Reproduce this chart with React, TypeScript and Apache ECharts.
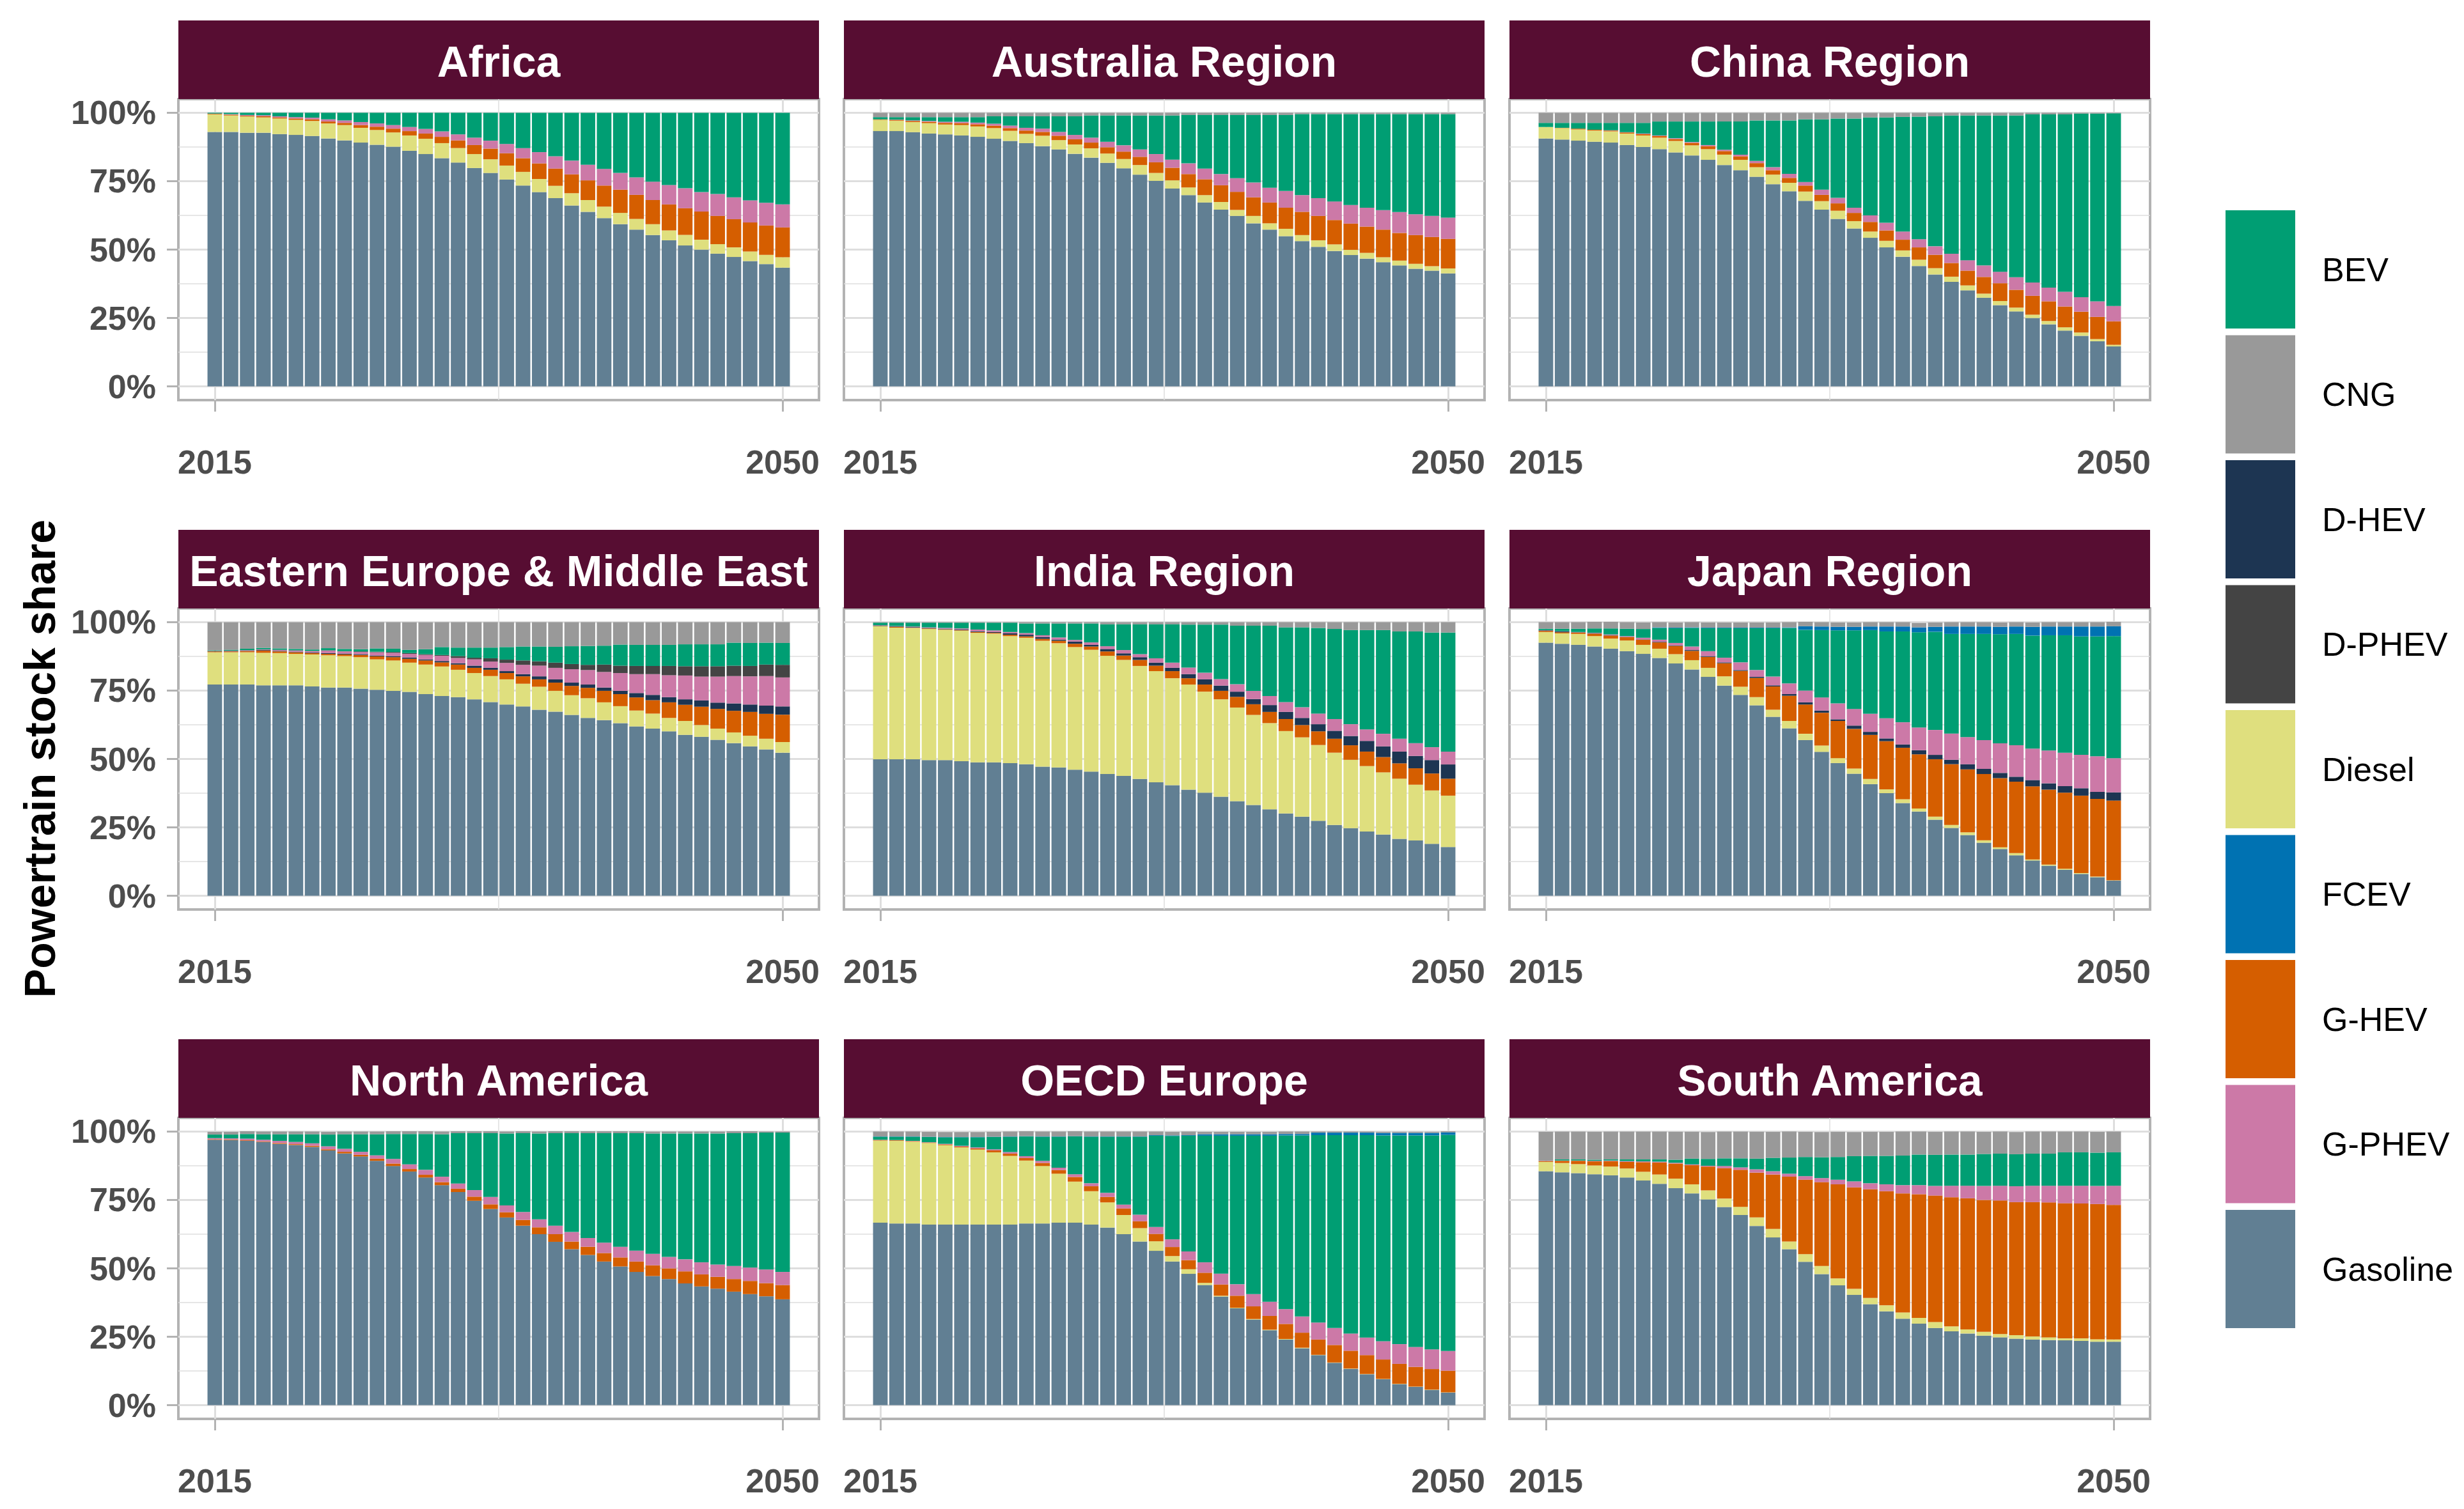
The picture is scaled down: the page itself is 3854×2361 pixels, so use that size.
import React, { useEffect, useRef } from 'react';
import * as echarts from 'echarts';

// ---------- categories / labels ----------
const YEARS = [2015, 2016, 2017, 2018, 2019, 2020, 2021, 2022, 2023, 2024, 2025, 2026, 2027, 2028, 2029, 2030, 2031, 2032, 2033, 2034, 2035, 2036, 2037, 2038, 2039, 2040, 2041, 2042, 2043, 2044, 2045, 2046, 2047, 2048, 2049, 2050];
const STACK_ORDER = ['Gasoline', 'Diesel', 'G-HEV', 'D-HEV', 'G-PHEV', 'D-PHEV', 'BEV', 'FCEV', 'CNG'];
const LEGEND_ORDER = ['BEV', 'CNG', 'D-HEV', 'D-PHEV', 'Diesel', 'FCEV', 'G-HEV', 'G-PHEV', 'Gasoline'];
const Y_TICKS = [0, 25, 50, 75, 100];
const Y_MINOR = [12.5, 37.5, 62.5, 87.5];
const X_TICKS = [2015, 2050];
const X_MINOR = [2032.5];
const Y_TITLE = 'Powertrain stock share';

// ---------- Africa ----------
const africaGasoline = [93.0, 93.0, 92.7, 92.7, 92.2, 91.9, 91.5, 90.6, 89.9, 89.1, 88.3, 87.6, 86.1, 84.9, 83.4, 81.8, 79.8, 78.0, 75.6, 73.4, 71.0, 68.8, 66.1, 63.8, 61.5, 59.3, 57.3, 55.3, 53.4, 51.5, 50.0, 48.5, 47.3, 45.8, 44.7, 43.4];
const africaDiesel = [6.4, 6.0, 5.9, 5.6, 5.7, 5.5, 5.5, 5.5, 5.6, 5.4, 5.4, 5.2, 5.6, 5.6, 5.5, 5.3, 5.1, 5.0, 5.1, 5.0, 4.8, 4.5, 4.5, 4.3, 4.2, 4.1, 3.9, 4.0, 3.6, 3.9, 3.6, 3.5, 3.5, 3.5, 3.4, 3.8];
const africaGHEV = [0.2, 0.3, 0.3, 0.4, 0.4, 0.5, 0.6, 0.7, 0.8, 1.0, 1.2, 1.4, 1.6, 1.9, 2.3, 2.8, 3.3, 3.9, 4.5, 5.0, 5.7, 6.3, 6.9, 7.2, 7.7, 8.5, 8.8, 8.8, 9.5, 9.7, 10.3, 10.3, 10.3, 10.6, 10.7, 10.9];
const africaGPHEV = [0.1, 0.2, 0.3, 0.4, 0.4, 0.5, 0.6, 0.8, 0.9, 1.1, 1.2, 1.3, 1.5, 1.7, 2.0, 2.2, 2.7, 2.9, 3.4, 3.7, 4.1, 4.5, 5.0, 5.7, 6.1, 6.1, 6.4, 6.7, 7.1, 7.3, 7.1, 8.0, 8.0, 8.1, 8.3, 8.4];
const africaBEV = [0.3, 0.5, 0.8, 0.9, 1.3, 1.6, 1.8, 2.4, 2.8, 3.4, 3.9, 4.5, 5.2, 5.9, 6.8, 7.9, 9.1, 10.2, 11.4, 12.9, 14.4, 15.9, 17.5, 19.0, 20.5, 22.0, 23.6, 25.2, 26.4, 27.6, 29.0, 29.7, 30.9, 32.0, 32.9, 33.5];

// ---------- Australia Region ----------
const ausGasoline = [93.3, 93.3, 92.9, 92.4, 92.1, 91.7, 91.2, 90.5, 89.7, 88.9, 87.8, 86.6, 85.0, 83.6, 81.7, 79.7, 77.4, 75.1, 72.3, 69.9, 67.2, 64.6, 62.3, 59.6, 57.3, 54.9, 53.1, 51.0, 49.5, 48.0, 46.7, 45.4, 44.2, 43.0, 42.3, 41.3];
const ausDiesel = [4.1, 3.8, 3.7, 3.8, 3.6, 3.8, 3.8, 3.9, 3.7, 3.4, 3.8, 3.4, 3.4, 3.4, 3.4, 3.4, 3.5, 2.9, 3.0, 2.8, 2.7, 2.8, 2.2, 2.7, 2.3, 2.7, 2.2, 2.4, 2.4, 1.9, 2.1, 1.8, 1.8, 1.8, 1.6, 1.8];
const ausGHEV = [0.2, 0.3, 0.4, 0.5, 0.6, 0.7, 0.8, 0.9, 1.0, 1.2, 1.4, 1.6, 1.9, 2.1, 2.3, 2.7, 3.0, 3.9, 4.6, 4.9, 5.8, 6.1, 6.6, 6.8, 7.6, 7.7, 8.5, 8.9, 8.9, 9.6, 9.6, 10.1, 10.1, 10.5, 10.7, 10.8];
const ausGPHEV = [0.0, 0.1, 0.2, 0.3, 0.4, 0.5, 0.6, 0.7, 0.9, 1.0, 1.2, 1.4, 1.6, 1.8, 2.0, 2.3, 2.7, 3.0, 3.0, 3.9, 3.9, 4.1, 5.0, 5.4, 5.4, 6.1, 6.1, 6.5, 6.8, 6.8, 6.9, 7.1, 7.6, 7.6, 7.7, 7.8];
const ausBEV = [0.8, 0.9, 1.2, 1.4, 1.7, 1.7, 2.0, 2.7, 3.4, 4.2, 4.5, 5.7, 6.8, 8.1, 9.6, 10.9, 12.4, 14.1, 16.1, 17.7, 19.6, 21.6, 23.1, 24.7, 26.6, 27.8, 29.6, 30.7, 31.9, 33.2, 34.2, 35.1, 35.8, 36.6, 37.2, 37.8];
const ausCNG = [1.6, 1.6, 1.6, 1.6, 1.6, 1.6, 1.6, 1.3, 1.3, 1.3, 1.3, 1.3, 1.3, 1.0, 1.0, 1.0, 1.0, 1.0, 1.0, 0.8, 0.8, 0.8, 0.8, 0.8, 0.8, 0.8, 0.5, 0.5, 0.5, 0.5, 0.5, 0.5, 0.5, 0.5, 0.5, 0.5];

// ---------- China Region ----------
const chinaGasoline = [90.6, 90.2, 89.8, 89.4, 89.1, 88.2, 87.5, 86.7, 85.5, 84.4, 82.8, 80.9, 79.0, 76.6, 73.9, 71.3, 67.8, 64.6, 61.2, 57.7, 54.3, 50.8, 47.4, 44.0, 40.9, 38.2, 35.1, 32.4, 29.7, 27.4, 25.0, 22.7, 20.4, 18.5, 16.5, 14.6];
const chinaDiesel = [4.2, 4.2, 4.1, 4.1, 4.1, 4.2, 4.2, 4.2, 4.2, 3.7, 3.9, 3.8, 3.8, 3.5, 3.5, 3.1, 3.4, 3.1, 3.0, 2.7, 2.3, 2.4, 2.3, 2.3, 2.3, 1.9, 1.8, 1.5, 1.5, 1.4, 1.2, 1.2, 1.2, 1.2, 0.8, 0.6];
const chinaGHEV = [0.0, 0.1, 0.3, 0.3, 0.3, 0.4, 0.5, 0.6, 0.7, 0.9, 1.1, 1.3, 1.3, 1.5, 1.6, 1.8, 2.2, 2.3, 2.7, 3.0, 3.5, 3.8, 3.9, 4.5, 4.9, 5.0, 5.4, 6.1, 6.5, 6.5, 6.9, 7.2, 7.6, 7.6, 8.1, 8.6];
const chinaGPHEV = [0.0, 0.0, 0.0, 0.0, 0.1, 0.1, 0.2, 0.2, 0.3, 0.3, 0.4, 0.5, 0.6, 0.8, 1.1, 1.5, 1.3, 1.9, 2.0, 1.9, 2.4, 2.8, 3.0, 3.0, 3.1, 3.4, 3.8, 4.2, 4.2, 4.6, 4.9, 5.0, 5.4, 5.3, 5.7, 5.6];
const chinaBEV = [1.5, 1.8, 2.1, 2.5, 2.7, 3.4, 3.9, 5.1, 6.1, 7.5, 8.6, 10.3, 12.1, 14.8, 17.1, 19.5, 22.9, 25.7, 29.0, 32.6, 35.8, 38.5, 41.9, 44.8, 47.5, 50.5, 52.9, 54.8, 57.1, 59.1, 61.4, 63.3, 64.8, 67.1, 68.6, 70.4];
const chinaCNG = [3.7, 3.7, 3.7, 3.7, 3.7, 3.7, 3.7, 3.2, 3.2, 3.2, 3.2, 3.2, 3.2, 2.8, 2.8, 2.8, 2.4, 2.4, 2.1, 2.1, 1.7, 1.7, 1.5, 1.4, 1.3, 1.0, 1.0, 1.0, 1.0, 1.0, 0.6, 0.6, 0.6, 0.3, 0.3, 0.2];

// ---------- Eastern Europe & Middle East ----------
const eemeGasoline = [77.2, 77.2, 77.2, 76.9, 76.9, 76.9, 76.5, 76.1, 76.1, 75.7, 75.3, 74.9, 74.5, 73.7, 73.0, 72.6, 71.8, 70.8, 69.9, 69.2, 68.0, 67.3, 66.1, 65.0, 64.2, 63.1, 61.9, 61.1, 60.1, 58.8, 58.1, 57.0, 55.8, 54.6, 53.5, 52.3];
const eemeDiesel = [11.8, 11.8, 11.8, 11.9, 11.8, 11.5, 11.7, 11.8, 11.5, 11.5, 11.1, 11.1, 10.7, 10.8, 10.8, 10.0, 9.6, 9.5, 9.2, 8.3, 8.4, 7.6, 7.2, 7.2, 6.5, 6.2, 5.8, 5.5, 4.9, 5.1, 4.3, 4.1, 3.9, 3.9, 3.9, 3.9];
const eemeGHEV = [0.3, 0.3, 0.4, 0.8, 0.6, 0.6, 0.5, 0.5, 0.6, 0.8, 1.1, 1.2, 1.4, 1.5, 1.5, 1.9, 1.9, 2.3, 2.3, 2.7, 2.7, 3.0, 3.4, 3.8, 4.2, 4.4, 4.8, 4.9, 5.7, 5.9, 6.7, 7.2, 7.9, 8.7, 9.1, 10.0];
const eemeDHEV = [0.1, 0.1, 0.1, 0.2, 0.2, 0.2, 0.2, 0.3, 0.3, 0.3, 0.3, 0.4, 0.5, 0.4, 0.5, 0.5, 0.8, 0.7, 0.7, 0.8, 1.1, 1.2, 1.2, 1.2, 1.2, 1.2, 1.6, 1.9, 1.9, 2.0, 2.3, 2.3, 2.7, 2.7, 3.0, 3.0];
const eemeGPHEV = [0.0, 0.1, 0.2, 0.2, 0.3, 0.4, 0.5, 0.9, 0.8, 0.8, 1.2, 1.2, 1.3, 1.6, 1.9, 1.9, 2.3, 2.3, 3.0, 3.4, 3.9, 4.2, 4.9, 5.3, 5.7, 6.5, 6.9, 7.6, 8.0, 8.7, 8.7, 9.5, 10.0, 10.3, 10.8, 10.6];
const eemeDPHEV = [0.1, 0.1, 0.1, 0.1, 0.1, 0.1, 0.1, 0.1, 0.1, 0.2, 0.2, 0.3, 0.3, 0.3, 0.3, 0.7, 0.6, 1.2, 1.2, 1.6, 1.6, 1.9, 1.9, 1.9, 2.7, 2.7, 3.0, 3.0, 3.4, 3.4, 3.8, 3.8, 3.8, 3.8, 4.2, 4.6];
const eemeBEV = [0.2, 0.3, 0.5, 0.5, 0.5, 0.5, 0.5, 0.8, 0.8, 0.8, 1.2, 1.2, 1.2, 1.8, 2.9, 3.1, 3.7, 3.9, 4.6, 5.1, 5.4, 5.8, 6.5, 6.9, 6.9, 7.7, 7.7, 7.7, 7.7, 8.0, 8.0, 8.0, 8.4, 8.4, 8.0, 8.0];
const eemeCNG = [10.3, 10.1, 9.7, 9.4, 9.6, 9.8, 10.0, 9.5, 9.8, 9.9, 9.6, 9.7, 10.1, 9.9, 9.1, 9.3, 9.3, 9.3, 9.1, 8.9, 8.9, 9.0, 8.8, 8.7, 8.6, 8.2, 8.3, 8.3, 8.3, 8.1, 8.1, 8.1, 7.5, 7.6, 7.5, 7.6];

// ---------- India Region ----------
const indiaGasoline = [49.9, 49.9, 49.9, 49.6, 49.6, 49.2, 48.8, 48.8, 48.5, 48.1, 47.2, 46.9, 46.1, 45.4, 44.5, 43.8, 42.7, 41.5, 40.4, 38.8, 37.7, 36.2, 34.6, 33.2, 31.6, 30.1, 28.9, 27.4, 25.9, 24.7, 23.5, 22.4, 20.8, 20.2, 19.0, 17.8];
const indiaDiesel = [48.6, 48.1, 48.0, 47.9, 47.6, 47.7, 47.3, 47.0, 46.4, 46.2, 46.0, 45.4, 44.8, 44.5, 43.2, 42.4, 41.3, 40.6, 39.1, 38.4, 36.9, 35.6, 34.2, 32.9, 31.5, 30.1, 29.0, 27.7, 26.4, 25.0, 23.9, 22.7, 22.0, 20.4, 19.5, 18.8];
const indiaGHEV = [0.1, 0.3, 0.1, 0.2, 0.2, 0.2, 0.3, 0.3, 0.5, 0.5, 0.7, 0.9, 1.2, 1.2, 1.6, 1.6, 2.2, 2.0, 2.6, 2.3, 2.6, 3.1, 3.9, 3.9, 4.1, 4.4, 4.5, 5.0, 5.1, 5.3, 5.3, 5.6, 5.6, 6.0, 6.2, 6.2];
const indiaDHEV = [0.2, 0.2, 0.2, 0.2, 0.2, 0.2, 0.3, 0.3, 0.5, 0.6, 0.7, 0.4, 0.8, 0.6, 0.9, 0.8, 1.0, 1.1, 1.2, 1.5, 1.9, 1.9, 1.9, 1.9, 2.5, 2.6, 2.6, 2.6, 2.9, 3.4, 3.9, 3.9, 4.3, 4.5, 4.9, 5.2];
const indiaGPHEV = [0.1, 0.1, 0.2, 0.2, 0.3, 0.4, 0.6, 0.6, 0.5, 0.6, 0.6, 0.8, 0.6, 0.9, 1.0, 1.2, 1.1, 1.6, 1.9, 2.4, 2.4, 2.4, 2.7, 3.0, 3.3, 3.6, 3.9, 3.9, 4.3, 4.3, 4.2, 4.6, 4.7, 4.7, 4.7, 4.7];
const indiaBEV = [0.9, 1.2, 1.4, 1.7, 1.9, 2.1, 2.5, 2.8, 3.4, 3.5, 4.3, 5.1, 6.0, 6.9, 8.0, 9.4, 10.9, 12.4, 14.0, 15.7, 17.6, 19.9, 21.4, 23.8, 25.7, 27.3, 29.2, 31.3, 32.9, 34.4, 36.3, 37.9, 39.2, 40.8, 41.9, 43.5];
const indiaCNG = [0.2, 0.2, 0.2, 0.2, 0.2, 0.2, 0.2, 0.2, 0.2, 0.5, 0.5, 0.5, 0.5, 0.5, 0.8, 0.8, 0.8, 0.8, 0.8, 0.9, 0.9, 0.9, 1.3, 1.3, 1.3, 1.9, 1.9, 2.1, 2.5, 2.9, 2.9, 2.9, 3.4, 3.4, 3.8, 3.8];

// ---------- Japan Region ----------
const japanGasoline = [92.5, 92.1, 91.7, 91.1, 90.3, 89.4, 88.4, 86.9, 84.9, 82.7, 80.0, 76.8, 73.4, 69.6, 65.4, 61.2, 56.9, 52.6, 48.5, 44.6, 40.8, 37.5, 33.9, 30.8, 27.8, 24.8, 22.2, 19.4, 17.1, 14.8, 12.9, 11.0, 9.5, 8.0, 6.8, 5.6];
const japanDiesel = [3.9, 3.8, 4.0, 3.8, 3.7, 3.9, 3.3, 3.4, 3.4, 3.4, 3.3, 3.4, 3.0, 3.0, 2.6, 2.7, 2.3, 2.3, 1.8, 1.9, 1.9, 1.4, 1.4, 1.1, 1.1, 1.1, 1.0, 0.9, 0.6, 0.8, 0.4, 0.4, 0.4, 0.3, 0.2, 0.1];
const japanGHEV = [0.4, 0.4, 0.5, 0.9, 1.1, 1.2, 1.9, 2.3, 3.0, 3.4, 4.0, 4.8, 5.8, 7.0, 8.5, 9.2, 10.7, 12.0, 13.6, 14.5, 16.1, 17.6, 18.8, 19.8, 21.0, 22.2, 23.0, 24.2, 25.3, 26.1, 26.7, 27.4, 27.8, 28.3, 28.4, 29.1];
const japanDHEV = [0.2, 0.3, 0.1, 0.1, 0.1, 0.1, 0.1, 0.2, 0.2, 0.3, 0.3, 0.3, 0.3, 0.4, 0.4, 0.6, 0.8, 0.8, 0.6, 1.2, 1.1, 1.0, 1.2, 1.5, 1.6, 1.6, 1.9, 1.9, 1.9, 1.8, 2.3, 2.3, 2.4, 2.7, 2.6, 3.0];
const japanGPHEV = [0.1, 0.1, 0.1, 0.2, 0.3, 0.3, 0.6, 0.8, 0.9, 1.3, 1.8, 1.7, 2.8, 2.5, 3.2, 3.9, 4.3, 4.8, 5.8, 6.1, 6.6, 7.4, 8.1, 8.3, 9.1, 9.6, 9.9, 10.5, 10.8, 11.5, 11.5, 12.0, 12.2, 12.2, 13.0, 12.5];
const japanBEV = [0.5, 0.9, 1.2, 1.6, 2.2, 2.7, 3.2, 4.3, 5.4, 6.8, 8.4, 10.8, 12.5, 15.3, 17.7, 20.3, 22.2, 24.6, 26.7, 28.7, 30.6, 31.7, 33.2, 34.8, 35.9, 36.4, 37.7, 38.8, 39.9, 40.7, 41.3, 42.1, 42.9, 43.3, 43.8, 44.6];
const japanFCEV = [0, 0, 0, 0, 0, 0, 0, 0.2, 0.2, 0.2, 0.2, 0.2, 0.2, 0.2, 0.2, 0.2, 1.3, 1.3, 1.3, 1.3, 1.3, 1.8, 1.8, 1.8, 1.8, 2.7, 2.7, 2.7, 2.7, 2.7, 3.2, 3.2, 3.2, 3.6, 3.6, 3.6];
const japanCNG = [2.4, 2.4, 2.4, 2.4, 2.4, 2.4, 2.4, 1.9, 1.9, 1.9, 1.9, 1.9, 1.9, 1.9, 1.9, 1.9, 1.6, 1.6, 1.6, 1.6, 1.6, 1.6, 1.6, 1.6, 1.6, 1.6, 1.6, 1.6, 1.6, 1.6, 1.6, 1.6, 1.6, 1.6, 1.6, 1.6];

// ---------- North America ----------
const naGasoline = [97.0, 96.9, 96.6, 96.2, 95.5, 95.1, 94.4, 93.1, 92.0, 90.9, 89.3, 87.4, 85.4, 83.2, 80.4, 77.9, 74.7, 71.7, 68.6, 65.6, 62.5, 59.7, 57.0, 54.9, 52.5, 50.7, 48.7, 47.2, 46.1, 44.5, 43.4, 42.6, 41.5, 40.6, 39.8, 38.7];
const naGHEV = [0.2, 0.2, 0.2, 0.2, 0.3, 0.3, 0.4, 0.4, 0.6, 0.6, 0.8, 0.9, 0.9, 1.0, 1.1, 1.2, 1.5, 1.7, 1.9, 2.1, 2.5, 2.8, 2.8, 3.0, 3.1, 3.3, 3.8, 3.9, 3.9, 4.4, 4.4, 4.3, 4.6, 4.8, 4.8, 5.2];
const naGPHEV = [0.4, 0.4, 0.6, 0.6, 0.8, 0.8, 0.9, 1.1, 1.1, 1.1, 1.2, 1.7, 1.7, 1.8, 2.0, 1.9, 2.4, 2.7, 2.5, 2.9, 2.9, 3.1, 3.5, 3.2, 3.8, 3.9, 4.0, 4.2, 4.2, 4.4, 4.4, 4.5, 4.8, 4.9, 5.0, 4.8];
const naBEV = [1.3, 1.4, 1.7, 2.0, 2.4, 2.8, 3.3, 4.3, 5.3, 6.4, 7.7, 9.1, 11.1, 13.1, 15.5, 18.4, 20.8, 23.3, 26.3, 28.8, 31.4, 33.8, 36.1, 38.3, 40.0, 41.5, 42.9, 44.0, 45.1, 46.0, 47.1, 47.9, 48.5, 49.1, 50.0, 50.9];
const naCNG = [1.0, 1.0, 1.0, 1.0, 1.0, 1.0, 1.0, 1.0, 1.0, 1.0, 1.0, 1.0, 1.0, 1.0, 1.0, 0.7, 0.7, 0.7, 0.7, 0.7, 0.7, 0.7, 0.7, 0.7, 0.7, 0.7, 0.7, 0.7, 0.7, 0.7, 0.7, 0.7, 0.7, 0.7, 0.4, 0.4];

// ---------- OECD Europe ----------
const oecdGasoline = [66.7, 66.4, 66.4, 66.0, 66.0, 66.0, 66.0, 66.0, 66.0, 66.4, 66.4, 66.7, 66.7, 66.0, 64.9, 62.5, 59.8, 56.4, 52.5, 48.0, 43.9, 39.7, 35.4, 31.3, 27.4, 24.0, 20.8, 18.3, 15.5, 13.3, 11.3, 9.5, 7.7, 6.7, 5.6, 4.6];
const oecdDiesel = [30.0, 30.2, 29.9, 29.8, 29.0, 28.2, 27.4, 26.4, 25.1, 23.0, 21.0, 17.9, 15.0, 12.2, 9.2, 7.0, 4.9, 3.5, 2.0, 1.7, 0.8, 0.3, 0.2, 0.2, 0.2, 0.2, 0.2, 0.1, 0.1, 0.1, 0.1, 0.1, 0.1, 0.1, 0.1, 0.1];
const oecdGHEV = [0.2, 0.2, 0.2, 0.2, 0.3, 0.3, 0.4, 0.7, 0.8, 0.9, 1.1, 1.3, 1.7, 1.8, 2.0, 2.4, 2.5, 2.7, 3.3, 3.3, 3.7, 4.1, 4.4, 4.6, 5.0, 5.5, 5.5, 5.6, 6.4, 6.5, 6.9, 7.1, 7.3, 7.2, 7.5, 7.9];
const oecdGPHEV = [0.1, 0.1, 0.1, 0.1, 0.2, 0.3, 0.4, 0.4, 0.6, 0.7, 0.8, 0.9, 1.0, 1.1, 1.5, 1.4, 2.4, 2.5, 2.8, 3.2, 3.8, 4.0, 4.2, 4.5, 5.2, 5.4, 5.9, 6.2, 6.2, 6.3, 6.4, 6.7, 7.2, 7.3, 7.2, 7.2];
const oecdBEV = [1.1, 1.2, 1.5, 1.9, 2.4, 3.1, 3.7, 4.5, 5.6, 7.2, 8.8, 11.3, 13.8, 17.0, 20.5, 24.8, 28.5, 33.4, 37.8, 42.3, 46.3, 50.4, 54.3, 57.9, 60.7, 63.5, 66.2, 68.5, 70.5, 72.5, 74.0, 75.2, 76.3, 77.3, 78.2, 79.0];
const oecdFCEV = [0.1, 0.1, 0.1, 0.1, 0.1, 0.1, 0.1, 0.1, 0.1, 0.1, 0.1, 0.1, 0.1, 0.1, 0.1, 0.1, 0.1, 0.2, 0.2, 0.2, 0.5, 0.5, 0.5, 0.5, 0.5, 0.5, 0.5, 0.9, 0.9, 0.9, 0.9, 0.9, 0.9, 0.9, 0.9, 0.9];
const oecdCNG = [1.8, 1.8, 1.8, 1.8, 1.8, 1.8, 1.8, 1.8, 1.8, 1.8, 1.8, 1.8, 1.8, 1.8, 1.8, 1.8, 1.8, 1.3, 1.3, 1.3, 0.9, 0.9, 0.9, 0.9, 0.9, 0.9, 0.9, 0.4, 0.4, 0.4, 0.4, 0.4, 0.4, 0.4, 0.4, 0.4];

// ---------- South America ----------
const saGasoline = [85.5, 85.1, 84.8, 84.4, 84.0, 83.2, 82.1, 80.9, 79.3, 77.4, 75.2, 72.4, 69.5, 65.5, 61.3, 57.0, 52.4, 47.9, 43.8, 40.3, 36.9, 34.3, 31.6, 29.8, 28.2, 27.0, 26.2, 25.4, 24.8, 24.3, 24.0, 23.8, 23.7, 23.5, 23.2, 23.2];
const saDiesel = [3.4, 3.4, 3.3, 3.2, 3.2, 3.3, 3.2, 3.4, 3.5, 3.3, 3.3, 3.1, 3.0, 3.1, 3.1, 2.8, 2.8, 3.0, 2.5, 2.2, 2.3, 2.2, 2.3, 2.1, 2.2, 1.8, 1.5, 1.4, 1.2, 1.3, 1.1, 1.0, 0.7, 0.9, 0.9, 0.8];
const saGHEV = [0.3, 0.8, 1.2, 1.5, 2.0, 2.4, 3.5, 4.4, 5.5, 7.0, 8.7, 11.1, 13.5, 16.4, 19.9, 23.7, 27.2, 30.6, 34.4, 37.1, 39.7, 41.7, 43.5, 45.2, 46.2, 47.2, 47.9, 48.2, 48.8, 48.6, 49.1, 49.3, 49.4, 49.3, 49.4, 49.2];
const saGPHEV = [0.1, 0.1, 0.1, 0.2, 0.2, 0.3, 0.3, 0.3, 0.3, 0.3, 0.3, 0.8, 0.9, 1.2, 1.2, 1.1, 1.3, 1.5, 1.7, 2.2, 2.2, 2.5, 3.0, 3.3, 3.5, 4.2, 4.6, 5.1, 5.4, 5.8, 6.0, 6.1, 6.4, 6.5, 6.6, 7.0];
const saBEV = [0.0, 0.4, 0.4, 0.4, 0.4, 0.6, 0.7, 0.8, 1.1, 2.1, 2.5, 2.8, 3.3, 3.9, 4.9, 5.9, 7.0, 7.6, 8.3, 9.2, 10.0, 10.4, 10.8, 11.2, 11.4, 11.4, 11.4, 11.7, 11.7, 11.7, 11.7, 11.7, 12.2, 12.2, 12.2, 12.2];
const saCNG = [10.6, 10.2, 10.2, 10.2, 10.2, 10.2, 10.2, 10.2, 10.2, 9.8, 9.8, 9.8, 9.8, 9.8, 9.5, 9.5, 9.2, 9.2, 9.2, 8.8, 8.8, 8.8, 8.8, 8.4, 8.4, 8.4, 8.4, 8.1, 8.1, 8.1, 8.1, 8.1, 7.6, 7.6, 7.6, 7.6];

// ---------- panel table built from the arrays ----------
const REGIONS: { title: string; data: Record<string, number[]> }[] = [
  { title: 'Africa', data: { Gasoline: africaGasoline, Diesel: africaDiesel, 'G-HEV': africaGHEV, 'G-PHEV': africaGPHEV, BEV: africaBEV } },
  { title: 'Australia Region', data: { Gasoline: ausGasoline, Diesel: ausDiesel, 'G-HEV': ausGHEV, 'G-PHEV': ausGPHEV, BEV: ausBEV, CNG: ausCNG } },
  { title: 'China Region', data: { Gasoline: chinaGasoline, Diesel: chinaDiesel, 'G-HEV': chinaGHEV, 'G-PHEV': chinaGPHEV, BEV: chinaBEV, CNG: chinaCNG } },
  { title: 'Eastern Europe & Middle East', data: { Gasoline: eemeGasoline, Diesel: eemeDiesel, 'G-HEV': eemeGHEV, 'D-HEV': eemeDHEV, 'G-PHEV': eemeGPHEV, 'D-PHEV': eemeDPHEV, BEV: eemeBEV, CNG: eemeCNG } },
  { title: 'India Region', data: { Gasoline: indiaGasoline, Diesel: indiaDiesel, 'G-HEV': indiaGHEV, 'D-HEV': indiaDHEV, 'G-PHEV': indiaGPHEV, BEV: indiaBEV, CNG: indiaCNG } },
  { title: 'Japan Region', data: { Gasoline: japanGasoline, Diesel: japanDiesel, 'G-HEV': japanGHEV, 'D-HEV': japanDHEV, 'G-PHEV': japanGPHEV, BEV: japanBEV, FCEV: japanFCEV, CNG: japanCNG } },
  { title: 'North America', data: { Gasoline: naGasoline, 'G-HEV': naGHEV, 'G-PHEV': naGPHEV, BEV: naBEV, CNG: naCNG } },
  { title: 'OECD Europe', data: { Gasoline: oecdGasoline, Diesel: oecdDiesel, 'G-HEV': oecdGHEV, 'G-PHEV': oecdGPHEV, BEV: oecdBEV, FCEV: oecdFCEV, CNG: oecdCNG } },
  { title: 'South America', data: { Gasoline: saGasoline, Diesel: saDiesel, 'G-HEV': saGHEV, 'G-PHEV': saGPHEV, BEV: saBEV, CNG: saCNG } },
];

const COLORS: Record<string, string> = {
  BEV: '#009E73',
  CNG: '#999999',
  'D-HEV': '#1D3552',
  'D-PHEV': '#444444',
  Diesel: '#DFDF7E',
  FCEV: '#0072B2',
  'G-HEV': '#D55E00',
  'G-PHEV': '#CC79A7',
  Gasoline: '#617F93',
};

// ---------- layout ----------
const W = 3854;
const H = 2361;
const FONT = '"Liberation Sans", Arial, sans-serif';
const COL_LEFT = [279, 1320, 2361];
const PANEL_W = 1002;
const STRIP_TOP = [32, 829, 1626];
const STRIP_H = 123;
const PLOT_H = 471;
const X_MIN = 2012.755;
const X_MAX = 2052.245;
const PX_PER_YEAR = PANEL_W / (X_MAX - X_MIN);
const GRID_COLOR = '#DEDEDE';
const BORDER_COLOR = '#B3B3B3';
const TICK_TEXT = '#4D4D4D';
const N = REGIONS.length;

const hiddenParts = {
  axisLine: { show: false, onZero: false },
  axisTick: { show: false },
  axisLabel: { show: false },
  splitLine: { show: false },
};

function buildOption() {
  const frameGrids: any[] = [];
  const dataGrids: any[] = [];
  const frameX: any[] = [];
  const frameY: any[] = [];
  const minorX: any[] = [];
  const minorY: any[] = [];
  const dataX: any[] = [];
  const dataY: any[] = [];
  const series: any[] = [];
  const graphics: any[] = [];

  REGIONS.forEach((reg, p) => {
    const r = Math.floor(p / 3);
    const c = p % 3;
    const left = COL_LEFT[c];
    const top = STRIP_TOP[r] + STRIP_H;

    // panel frame (grid p): border, gridlines, ticks and tick labels
    frameGrids.push({
      left, top, width: PANEL_W, height: PLOT_H,
      show: true, borderColor: BORDER_COLOR, borderWidth: 4, backgroundColor: '#FFFFFF',
      containLabel: false, outerBoundsMode: 'none',
    });
    // data area (grid N + p): exactly the 36 year bands 2014.5 .. 2050.5
    dataGrids.push({
      left: left + (2014.5 - X_MIN) * PX_PER_YEAR, top,
      width: YEARS.length * PX_PER_YEAR, height: PLOT_H,
      show: false, containLabel: false, outerBoundsMode: 'none',
    });

    frameX.push({
      type: 'value', gridIndex: p, min: X_MIN, max: X_MAX, position: 'bottom',
      axisLine: { show: false, onZero: false },
      axisTick: { show: true, customValues: X_TICKS, length: 18, lineStyle: { color: BORDER_COLOR, width: 3 } },
      axisLabel: {
        show: true, customValues: X_TICKS, margin: 71, fontSize: 52, fontWeight: 'bold',
        color: TICK_TEXT, fontFamily: FONT, formatter: (v: number) => String(v),
      },
      splitLine: { show: true, lineStyle: { color: GRID_COLOR, width: 3 } },
    });
    minorX.push({
      type: 'value', gridIndex: p, min: X_MIN, max: X_MAX, position: 'top',
      axisLine: { show: false, onZero: false },
      axisTick: { show: false, customValues: X_MINOR },
      axisLabel: { show: false },
      splitLine: { show: true, lineStyle: { color: GRID_COLOR, width: 1.5 } },
    });
    frameY.push({
      type: 'value', gridIndex: p, min: -5, max: 105, position: 'left',
      axisLine: { show: false, onZero: false },
      axisTick: { show: c === 0, customValues: Y_TICKS, length: 18, lineStyle: { color: BORDER_COLOR, width: 3 } },
      axisLabel: {
        show: c === 0, customValues: Y_TICKS, margin: 35, fontSize: 52, fontWeight: 'bold',
        color: TICK_TEXT, fontFamily: FONT, formatter: (v: number) => v + '%',
      },
      splitLine: { show: true, lineStyle: { color: GRID_COLOR, width: 3 } },
    });
    minorY.push({
      type: 'value', gridIndex: p, min: -5, max: 105, position: 'right',
      axisLine: { show: false, onZero: false },
      axisTick: { show: false, customValues: Y_MINOR },
      axisLabel: { show: false },
      splitLine: { show: true, lineStyle: { color: GRID_COLOR, width: 1.5 } },
    });
    dataX.push({ type: 'category', gridIndex: N + p, data: YEARS, boundaryGap: true, position: 'bottom', ...hiddenParts });
    dataY.push({ type: 'value', gridIndex: N + p, min: -5, max: 105, position: 'left', ...hiddenParts });

    STACK_ORDER.forEach((fuel) => {
      const vals = reg.data[fuel];
      if (!vals) return;
      series.push({
        type: 'bar', name: fuel, xAxisIndex: 2 * N + p, yAxisIndex: 2 * N + p, stack: 'panel' + p,
        barWidth: '90%', silent: true,
        itemStyle: { color: COLORS[fuel] },
        emphasis: { disabled: true },
        data: vals,
      });
    });

    graphics.push({
      type: 'rect', silent: true,
      shape: { x: left, y: STRIP_TOP[r], width: PANEL_W, height: STRIP_H },
      style: { fill: '#570D32' },
    });
    graphics.push({
      type: 'text', silent: true,
      x: left + PANEL_W / 2, y: STRIP_TOP[r] + STRIP_H / 2 + 2,
      style: {
        text: reg.title, fill: '#FFFFFF', fontSize: 68, fontWeight: 'bold', fontFamily: FONT,
        align: 'center', verticalAlign: 'middle',
      },
    });
  });

  graphics.push({
    type: 'text', silent: true, x: 62, y: 1187, rotation: Math.PI / 2,
    style: {
      text: Y_TITLE, fill: '#000000', fontSize: 68, fontWeight: 'bold', fontFamily: FONT,
      align: 'center', verticalAlign: 'middle',
    },
  });

  return {
    animation: false,
    backgroundColor: '#FFFFFF',
    grid: [...frameGrids, ...dataGrids],
    // axis index layout: frame 0..N-1, minor N..2N-1, data 2N..3N-1
    xAxis: [...frameX, ...minorX, ...dataX],
    yAxis: [...frameY, ...minorY, ...dataY],
    series,
    graphic: graphics,
    legend: {
      orient: 'vertical', left: 3481, top: 329, padding: 0,
      itemWidth: 109, itemHeight: 185, itemGap: 10.5, icon: 'rect', selectedMode: false,
      data: LEGEND_ORDER,
      textStyle: { fontSize: 52, color: '#000000', fontFamily: FONT, padding: [0, 0, 0, 37] },
    },
  };
}

export default function App() {
  const ref = useRef<HTMLDivElement>(null);
  useEffect(() => {
    if (!ref.current) return;
    const chart = echarts.init(ref.current, undefined, { renderer: 'svg' });
    chart.setOption(buildOption() as any);
    return () => chart.dispose();
  }, []);
  return (
    <div
      ref={ref}
      style={{ position: 'fixed', left: 0, top: 0, width: W, height: H, background: '#FFFFFF' }}
    />
  );
}
